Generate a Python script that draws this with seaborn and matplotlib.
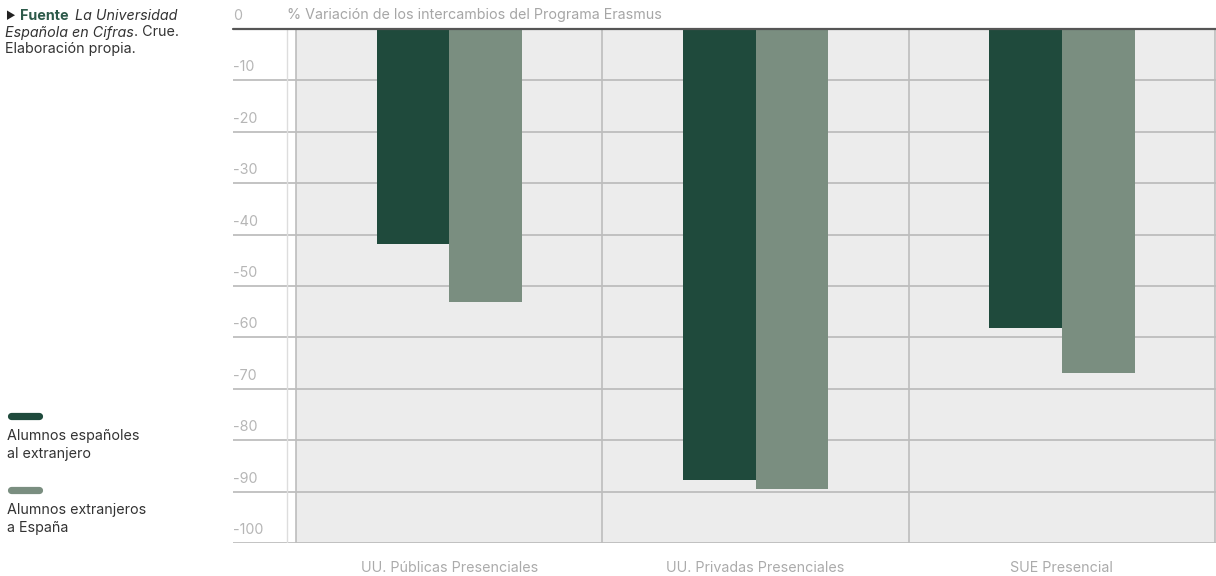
import pandas as pd
import matplotlib.pyplot as plt
import seaborn as sns
from matplotlib.lines import Line2D

categorias = ['UU. Públicas Presenciales', 'UU. Privadas Presenciales', 'SUE Presencial']
series = ['Alumnos españoles al extranjero', 'Alumnos extranjeros a España']
espanoles_fuera = [-41.9, -87.7, -58.1]
extranjeros_dentro = [-53.1, -89.5, -66.9]
y_ticks = [0, -10, -20, -30, -40, -50, -60, -70, -80, -90, -100]
colores = ['#1f4a3c', '#7a8e80']

df = pd.DataFrame({
    'categoria': categorias * 2,
    'serie': [series[0]] * 3 + [series[1]] * 3,
    'valor': espanoles_fuera + extranjeros_dentro,
})

sns.set_theme(style='white')
plt.rcParams['font.family'] = ['Inter', 'DejaVu Sans']

W, H = 1216, 576
fig = plt.figure(figsize=(W / 100, H / 100), dpi=100)


def fx(px):
    return px / W


def fy(py):
    return 1 - py / H


ax = fig.add_axes([fx(233), fy(543), fx(1216) - fx(233), fy(29) - fy(543)])

# fondo gris y rejilla
ax.axvspan(-0.5, 2.5, color='#ececec', lw=0, zorder=0)
for v in y_ticks[1:]:
    ax.axhline(v, color='#b9b9b9', lw=1.2, zorder=1)
for xv in [-0.5, 0.5, 1.5, 2.5]:
    ax.axvline(xv, color='#bdbdbd', lw=1.2, zorder=1)
ax.axvline(-0.53, color='#dddddd', lw=1, zorder=1)

sns.barplot(data=df, x='categoria', y='valor', hue='serie', palette=colores,
            width=0.474, saturation=1, linewidth=0, ax=ax, legend=False, zorder=2)
ax.axhline(0, color='#555555', lw=1.6, zorder=3, clip_on=False)

ax.set_xlim(-0.7057, 2.503)
ax.set_ylim(-100, 0)
ax.set_yticks([])
ax.set_xlabel('')
ax.set_ylabel('')
ax.tick_params(axis='x', length=0, pad=13, labelcolor='#ababab', labelsize=10.3)
for s in ax.spines.values():
    s.set_visible(False)

for v in y_ticks:
    ax.annotate(str(v), xy=(0, v), xycoords=('axes fraction', 'data'),
                xytext=(0, 9), textcoords='offset pixels', ha='left', va='baseline',
                color='#b6b6b6', fontsize=10.3, annotation_clip=False)

ax.annotate('% Variación de los intercambios del Programa Erasmus', xy=(-0.53, 0),
            xycoords='data', xytext=(0, 9.5), textcoords='offset pixels',
            ha='left', va='baseline', color='#a6a6a6', fontsize=10.3, annotation_clip=False)

# fuente
txt = '#333333'
fig.text(fx(5), fy(19.5), '▶', fontsize=7.5, color='#222222', va='baseline')
t = fig.text(fx(20), fy(19.5), 'Fuente', fontsize=10.3, fontweight='bold', color='#2d5a4a', va='baseline')
ax.annotate('La Universidad', xy=(1, 0), xycoords=t, xytext=(6, 0), textcoords='offset pixels',
            va='bottom', fontsize=10.3, style='italic', color=txt, annotation_clip=False)
t2 = fig.text(fx(5), fy(36.5), 'Española en Cifras', fontsize=10.3, style='italic', color=txt, va='baseline')
ax.annotate('. Crue.', xy=(1, 0), xycoords=t2, va='bottom', fontsize=10.3, color=txt,
            annotation_clip=False)
fig.text(fx(5), fy(52.5), 'Elaboración propia.', fontsize=10.3, color=txt, va='baseline')

# leyenda
leyenda = [(colores[0], 415.5, ['Alumnos españoles', 'al extranjero'], 440),
           (colores[1], 490, ['Alumnos extranjeros', 'a España'], 514)]
for color, py, lineas, by in leyenda:
    fig.add_artist(Line2D([fx(10.5), fx(38.5)], [fy(py), fy(py)], color=color, lw=5.2,
                          solid_capstyle='round', transform=fig.transFigure))
    for i, linea in enumerate(lineas):
        fig.text(fx(7), fy(by + 18 * i), linea, fontsize=10.3, color=txt, va='baseline')

fig.savefig('out.png', dpi=100)
